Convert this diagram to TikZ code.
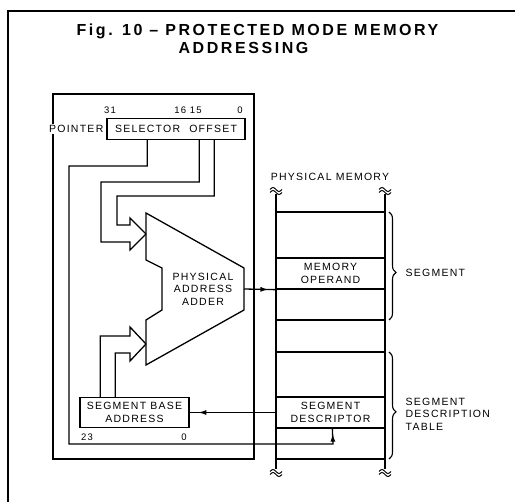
\documentclass[tikz,border=0pt]{standalone}
\usepackage{fontspec}
\setmainfont{Liberation Sans}
\newfontfamily\lblfont[LetterSpace=12]{Liberation Sans}
\newfontfamily\ttlfont[LetterSpace=16]{Liberation Sans}
\usetikzlibrary{arrows.meta,decorations.markings,decorations.pathreplacing}

\begin{document}
\begin{tikzpicture}[x=1pt, y=-1pt, line width=1.3pt,
  every node/.style={font=\lblfont\fontsize{10.5}{12.5}\selectfont, inner sep=0pt, align=center},
  box/.style={draw, fill=white, line width=1.4pt},
  cell/.style={draw, minimum width=109pt, minimum height=31pt},
  bits/.style={font=\lblfont\fontsize{9.5}{10}\selectfont},
  midarrow/.style={postaction={decorate}, decoration={markings, mark=at position #1 with {\arrow{Latex[length=8pt,width=5pt]}}}},
  rail/.style={line width=1.8pt},
  brk/.style={line width=1pt},
  segbrace/.style={decorate, line width=1.1pt, decoration={brace, amplitude=7pt, aspect=0.56}}]
	\useasboundingbox (0,0) rectangle (515,502);
	\draw (8,502) -- (8,11) -- (515,11);
	\node[font=\ttlfont\bfseries\fontsize{16}{18}\selectfont, anchor=base west] (ttl1) at (76,36) {Fig. 10 \textendash{} PROTECTED MODE MEMORY};
	\node[font=\ttlfont\bfseries\fontsize{16}{18}\selectfont, anchor=base west] (ttl2) at (178,54) {ADDRESSING};
	
	% processor side
	\draw (53,94) rectangle (254,459);
	\node[box, minimum width=138pt, minimum height=21pt] (ptr) at (176,129) {SELECTOR\hspace{9pt}OFFSET};
	\node[anchor=east, fill=white, inner sep=1pt] (ptrlbl) at (105,129) {POINTER};
	\node[bits] at (110,110) {31};
	\node[bits] at (188,110) {16 15};
	\node[bits] at (240,110) {0};
	\node[box, minimum width=109pt, minimum height=30pt] (sba) at (134.5,412.5) {SEGMENT BASE\\ADDRESS};
	\node[bits] at (87,437) {23};
	\node[bits] at (184,437) {0};
	
	% adder
	\draw (146,213) -- (244,268) -- (244,310) -- (146,365) -- (146,320) -- (162,310) -- (162,268) -- (146,260) -- cycle;
	\coordinate (addin) at (146,234);
	\coordinate (addin2) at (146,344);
	\coordinate (addout) at (244,289);
	\node (adder) at (203,289) {PHYSICAL\\ADDRESS\\ADDER};
	
	% hollow arrows into the adder
	\draw ([xshift=93pt]ptr.south west) |- (101,182) |- (130,242) -- (130,250) -- (addin);
	\draw ([xshift=108pt]ptr.south west) |- (117,196) |- (130,225) -- (130,218) -- (addin);
	\draw ([xshift=21pt]sba.north west) |- (130,336) -- (130,327) -- (addin2);
	\draw ([xshift=36pt]sba.north west) |- (130,353) -- (130,361) -- (addin2);
	
	% physical memory
	\node (pmlbl) at (330,177) {PHYSICAL MEMORY};
	\foreach \y in {212,320,352,459}
		\draw (276,\y) -- (385,\y);
	\node[cell] (memop) at (330.5,273.5) {MEMORY\\OPERAND};
	\node[cell] (segdesc) at (330.5,412.5) {SEGMENT\\DESCRIPTOR};
	\draw[rail] (276,194) -- (276,469);
	\draw[rail] (385,194) -- (385,469);
	\foreach \x in {276,385}
		\foreach \y in {189.5,192.5,471.5,474.5}
			\draw[brk] (\x-6,\y) sin (\x-3,\y-2) cos (\x,\y) sin (\x+3,\y+2) cos (\x+6,\y);
	\draw[segbrace] (389,212) -- (389,320);
	\draw[segbrace] (389,352) -- (389,459);
	\node[anchor=west] (seglbl) at (405,273) {SEGMENT};
	\node[anchor=west, align=left] (tbllbl) at (405,414) {SEGMENT\\DESCRIPTION\\TABLE};
	
	% connections
	\draw[midarrow=0.78] (addout) -- (memop.south west);
	\draw[midarrow=0.9] (segdesc.west) -- (sba.east);
	\draw[midarrow=-5pt] ([xshift=41pt]ptr.south west) |- (69,166) |- (333,444) -- ([xshift=57pt]segdesc.south west);
\end{tikzpicture}
\end{document}
